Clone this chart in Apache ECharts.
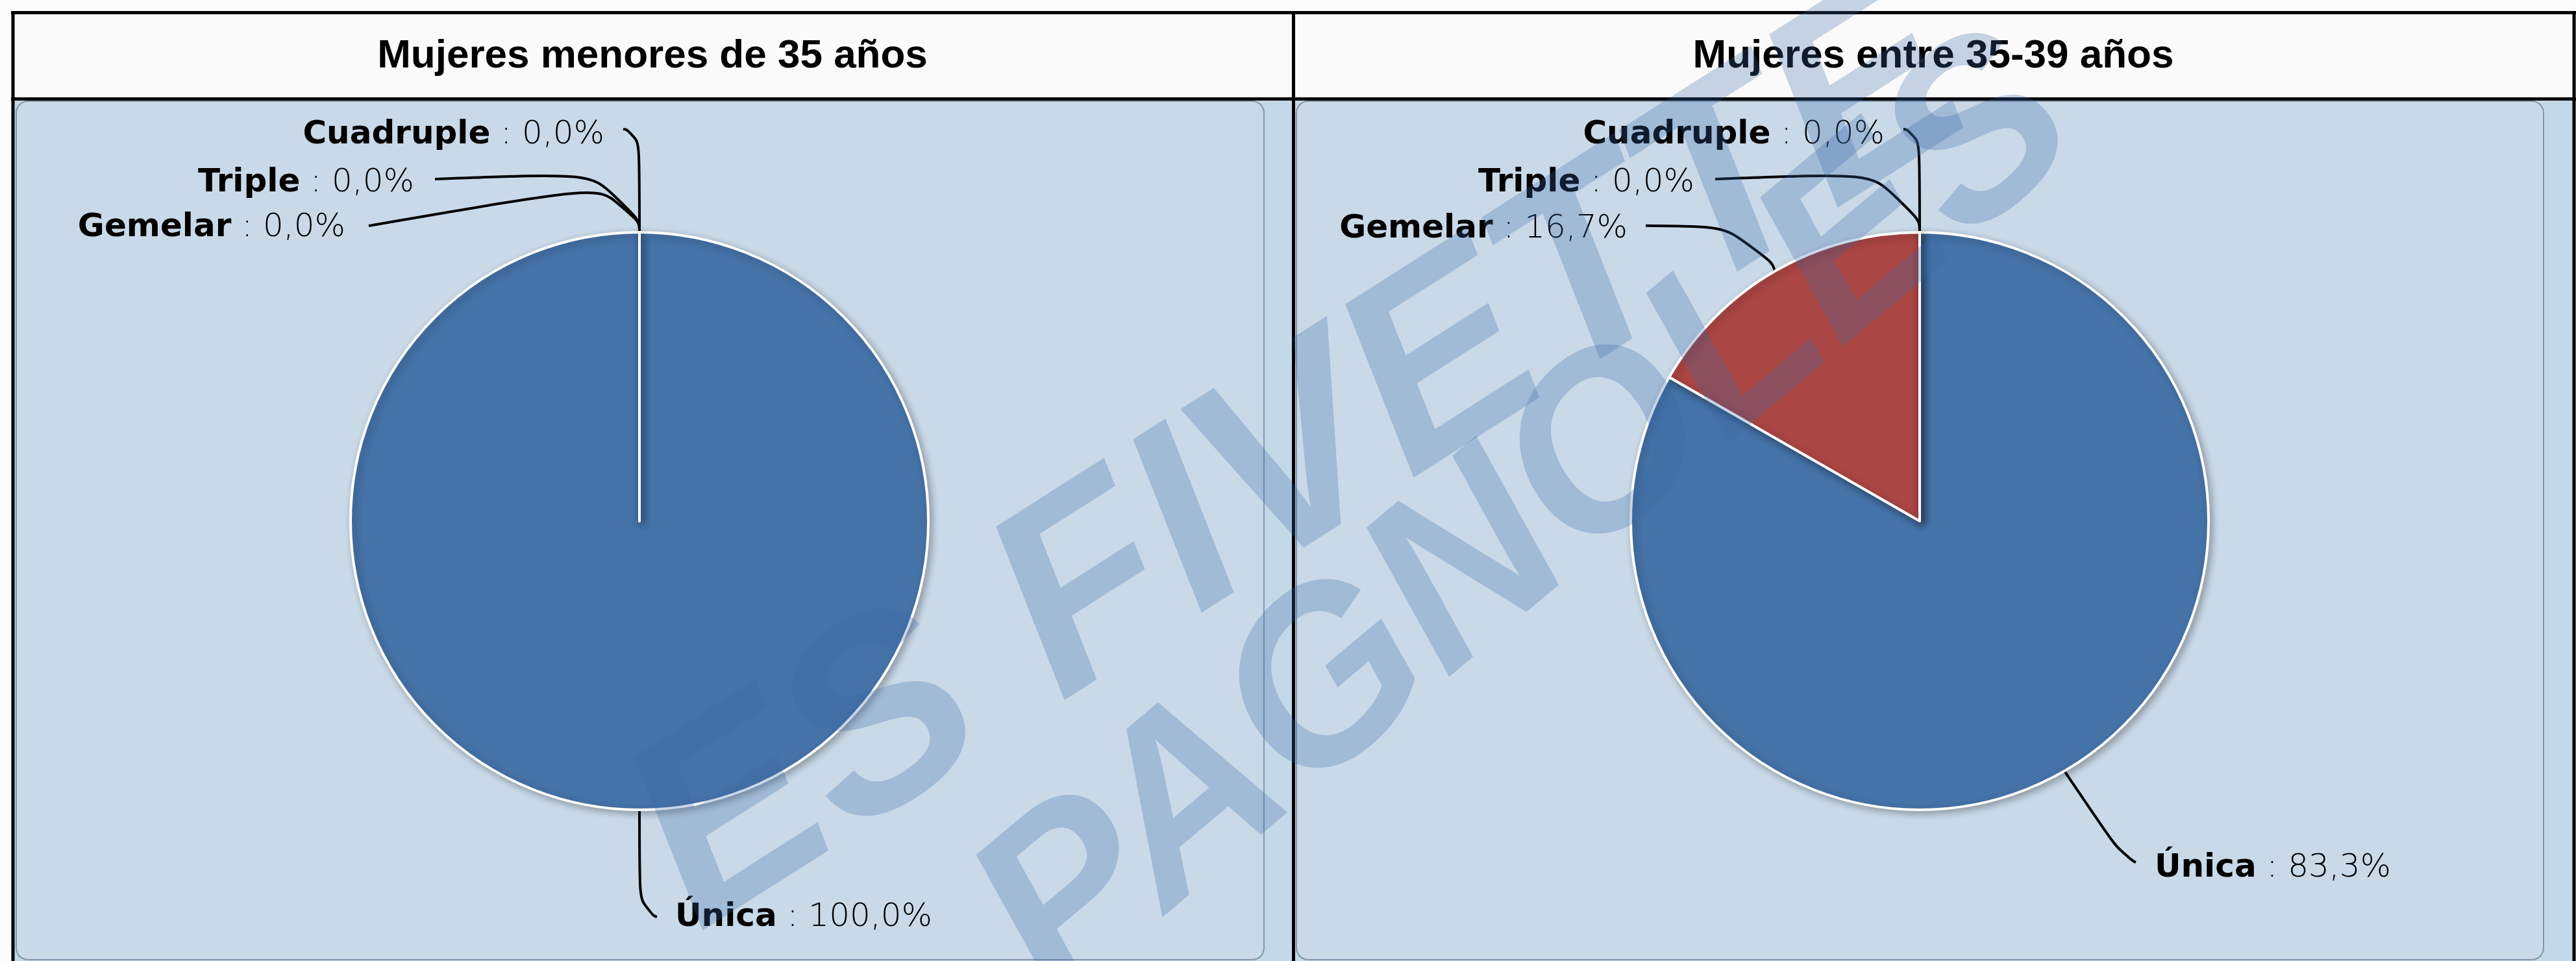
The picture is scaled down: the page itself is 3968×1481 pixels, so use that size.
<!DOCTYPE html>
<html lang="es">
<head>
    <meta charset="utf-8">
</head>
<body style="margin: 0; background: #fbfbfb">
    <div id="container" style="width: 3968px; height: 1481px"></div>
    <script type="text/javascript" src="https://fastly.jsdelivr.net/npm/echarts@6/dist/echarts.min.js"></script>
    <script type="text/javascript">
    // datos
    const categorias = ['Única', 'Gemelar', 'Triple', 'Cuadruple'];
    const menores35 = [100.0, 0.0, 0.0, 0.0];
    const entre35y39 = [83.3, 16.7, 0.0, 0.0];
    const titulos = ['Mujeres menores de 35 años', 'Mujeres entre 35-39 años'];
    const colores = ['#4572a7', '#aa4643', '#89a54e', '#80699b'];

    // where each label sits, relative to the point on the arc that echarts gives
    const labelSpots = [
        [
            { dx: 55, dy: 166, align: 'left', bend: [0, 158], end: [27, 165] },
            { dx: -453, dy: -7, align: 'right', bend: [0, -82], end: [-417, -10] },
            { dx: -347, dy: -76, align: 'right', bend: [0, -94], end: [-315, -82] },
            { dx: -54, dy: -150, align: 'right', bend: [0, -158], end: [-25, -159] }
        ],
        [
            { dx: 139, dy: 150, align: 'left', bend: [88, 130], end: [110, 141] },
            { dx: -227, dy: -65, align: 'right', bend: [-22, -68], end: [-199, -70] },
            { dx: -347, dy: -76, align: 'right', bend: [0, -94], end: [-315, -82] },
            { dx: -54, dy: -150, align: 'right', bend: [0, -158], end: [-25, -159] }
        ]
    ];

    var dom = document.getElementById('container');
    var myChart = echarts.init(dom, null, { renderer: 'canvas' });
    var option;

    function fmt(v) {
        return v.toFixed(1).replace('.', ',') + '%';
    }

    function makePie(values, center) {
        return {
            type: 'pie',
            center: center,
            radius: 445,
            startAngle: 90,
            clockwise: true,
            silent: true,
            emphasis: { disabled: true },
            avoidLabelOverlap: false,
            data: categorias.map((c, i) => ({
                name: c,
                value: values[i],
                itemStyle: { color: colores[i] }
            })),
            itemStyle: {
                borderColor: '#ffffff',
                borderWidth: 4,
                shadowBlur: 12,
                shadowOffsetX: 4,
                shadowOffsetY: 4,
                shadowColor: 'rgba(0,0,0,0.28)'
            },
            label: {
                show: true,
                position: 'outside',
                formatter: p => '{n|' + p.name + '}{v| : ' + fmt(p.value) + '}',
                rich: {
                    n: {
                        fontFamily: 'DejaVu Sans',
                        fontWeight: 'bold',
                        fontSize: 50,
                        color: '#000000',
                        lineHeight: 60
                    },
                    v: {
                        fontFamily: 'DejaVu Sans',
                        fontWeight: 200,
                        fontSize: 50,
                        color: '#000000',
                        lineHeight: 60
                    }
                }
            },
            labelLine: {
                show: true,
                smooth: 0.8,
                lineStyle: { color: '#000000', width: 4 }
            },
            labelLayout: function (params) {
                const s = labelSpots[params.seriesIndex][params.dataIndex];
                const p0 = params.labelLinePoints[0];
                return {
                    x: p0[0] + s.dx,
                    y: p0[1] + s.dy,
                    align: s.align,
                    verticalAlign: 'middle',
                    labelLinePoints: [
                        [p0[0], p0[1]],
                        [p0[0] + s.bend[0], p0[1] + s.bend[1]],
                        [p0[0] + s.end[0], p0[1] + s.end[1]]
                    ]
                };
            }
        };
    }

    const tableLine = { stroke: '#000000', lineWidth: 5 };
    const panelStyle = { fill: '#c9d9e8', stroke: '#8096ad', lineWidth: 2 };
    const watermark = 'rgba(55,105,165,0.27)';

    option = {
        animation: false,
        backgroundColor: '#fbfbfb',
        title: titulos.map((t, i) => ({
            text: t,
            left: i === 0 ? 1005 : 2978,
            top: 56,
            textAlign: 'center',
            padding: 0,
            textStyle: {
                fontFamily: "'Liberation Sans', Arial, sans-serif",
                fontWeight: 'bold',
                fontSize: 62,
                color: '#000000'
            }
        })),
        graphic: [
            // header band and cell backgrounds
            { type: 'rect', z: 0, shape: { x: 20, y: 20, width: 3945, height: 132 }, style: { fill: '#fafafa' } },
            { type: 'rect', z: 0, shape: { x: 20, y: 152, width: 3945, height: 1329 }, style: { fill: '#c4d9e8' } },
            { type: 'rect', z: 0, shape: { x: 25, y: 156, width: 1922, height: 1323, r: 18 }, style: panelStyle },
            { type: 'rect', z: 0, shape: { x: 1997, y: 156, width: 1921, height: 1323, r: 18 }, style: panelStyle },
            // table borders
            { type: 'line', z: 1, shape: { x1: 17, y1: 19.5, x2: 3968, y2: 19.5 }, style: tableLine },
            { type: 'line', z: 1, shape: { x1: 17, y1: 152.5, x2: 3968, y2: 152.5 }, style: tableLine },
            { type: 'line', z: 1, shape: { x1: 20, y1: 17, x2: 20, y2: 1481 }, style: tableLine },
            { type: 'line', z: 1, shape: { x1: 3965, y1: 17, x2: 3965, y2: 1481 }, style: tableLine },
            { type: 'line', z: 1, shape: { x1: 1992.5, y1: 17, x2: 1992.5, y2: 1481 }, style: tableLine },
            // watermark
            {
                type: 'text', z: 100, x: 2005, y: 712, rotation: 32.5 * Math.PI / 180,
                style: {
                    text: 'ES FIVETTE',
                    font: 'italic bold 410px "Liberation Sans", Arial, sans-serif',
                    fill: watermark, align: 'center', verticalAlign: 'middle'
                }
            },
            {
                type: 'text', z: 100, x: 2355, y: 805, rotation: 40 * Math.PI / 180,
                style: {
                    text: 'PAGNOLES',
                    font: 'italic bold 375px "Liberation Sans", Arial, sans-serif',
                    fill: watermark, align: 'center', verticalAlign: 'middle'
                }
            }
        ],
        series: [
            makePie(menores35, [985, 803]),
            makePie(entre35y39, [2957, 803])
        ]
    };

    if (option && typeof option === 'object') {
        myChart.setOption(option);
    }

    window.addEventListener('resize', myChart.resize);
    </script>
</body>
</html>
